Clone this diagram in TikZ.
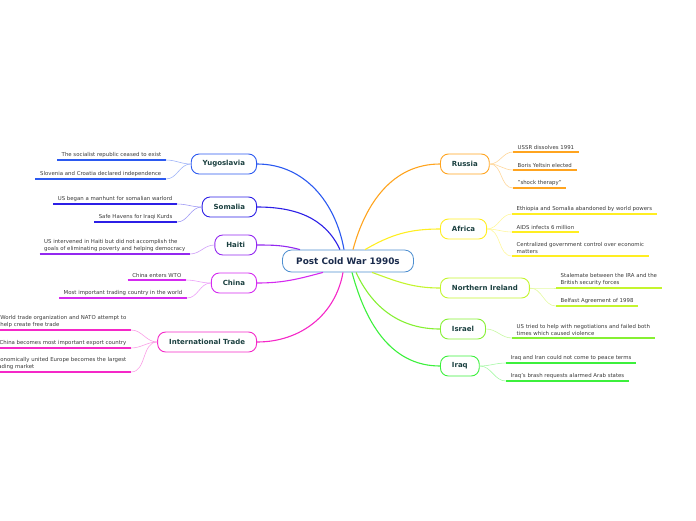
\documentclass[tikz,border=0pt]{standalone}
\usepackage{fontspec}
\setmainfont{DejaVu Sans}
\usetikzlibrary{positioning, calc}

\definecolor{rootline}{HTML}{4E8FD0}
\definecolor{roottext}{HTML}{1A2B4C}
\definecolor{topictext}{HTML}{1B4040}
\definecolor{leafgray}{HTML}{3A3A3A}
\definecolor{yugoC}{HTML}{2B59F0}
\definecolor{somC}{HTML}{2C1FE6}
\definecolor{haitiC}{HTML}{9328F0}
\definecolor{chinaC}{HTML}{D42AF0}
\definecolor{tradeC}{HTML}{F528C8}
\definecolor{russiaC}{HTML}{FFA41F}
\definecolor{africaC}{HTML}{FFEE22}
\definecolor{nirelC}{HTML}{C4F52E}
\definecolor{israelC}{HTML}{86F033}
\definecolor{iraqC}{HTML}{3CF03C}

\begin{document}
\begin{tikzpicture}[x=1pt, y=1pt,
    root/.style={draw=rootline, line width=0.8pt, rounded corners=9pt, fill=white,
        minimum width=131pt, minimum height=22pt, text=roottext,
        font=\fontsize{8.9}{10}\selectfont\bfseries},
    topic/.style={draw, line width=0.9pt, rounded corners=8pt, fill=white,
        minimum height=20pt, inner xsep=11.5pt, text=topictext,
        font=\fontsize{7}{8}\selectfont\bfseries},
    leaf/.style={inner xsep=4.5pt, inner ysep=2.2pt, align=left, text=leafgray,
        font=\fontsize{5.4}{7}\selectfont},
    branch/.style={line width=1.1pt},
    twig/.style={line width=0.6pt},
    uline/.style={line width=1.4pt}]

    \useasboundingbox (0,0) rectangle (696,-520);

    % Central topic
    \node[root] (root) at (348,-261) {Post Cold War 1990s};

    % Main topics (left)
    \node[topic, draw=yugoC, anchor=east] (yugo) at (257,-164) {Yugoslavia};
    \node[topic, draw=somC, anchor=east] (som) at (257,-207) {Somalia};
    \node[topic, draw=haitiC, anchor=east] (haiti) at (257,-245) {Haiti};
    \node[topic, draw=chinaC, anchor=east] (china) at (257,-283) {China};
    \node[topic, draw=tradeC, anchor=east] (trade) at (257,-342) {International Trade};

    % Main topics (right)
    \node[topic, draw=russiaC, anchor=west] (russia) at (440,-164) {Russia};
    \node[topic, draw=africaC, anchor=west] (africa) at (440,-229) {Africa};
    \node[topic, draw=nirelC, anchor=west] (nirel) at (440,-288) {Northern Ireland};
    \node[topic, draw=israelC, anchor=west] (israel) at (440,-329) {Israel};
    \node[topic, draw=iraqC, anchor=west] (iraq) at (440,-366) {Iraq};

    % Branches from the central topic
    \draw[branch, yugoC] ([xshift=-4pt]root.north) to[out=100, in=0] (yugo.east);
    \draw[branch, somC] ([xshift=-8pt]root.north) to[out=115, in=0] (som.east);
    \draw[branch, haitiC] ([xshift=-48pt]root.north) to[out=165, in=0] (haiti.east);
    \draw[branch, chinaC] ([xshift=-25pt]root.south) to[out=-165, in=0] (china.east);
    \draw[branch, tradeC] ([xshift=-5pt]root.south) to[out=-100, in=0] (trade.east);
    \draw[branch, russiaC] ([xshift=5pt]root.north) to[out=75, in=180] (russia.west);
    \draw[branch, africaC] ([xshift=17pt]root.north) to[out=30, in=180] (africa.west);
    \draw[branch, nirelC] ([xshift=24pt]root.south) to[out=-20, in=180] (nirel.west);
    \draw[branch, israelC] ([xshift=8pt]root.south) to[out=-65, in=180] (israel.west);
    \draw[branch, iraqC] ([xshift=4pt]root.south) to[out=-75, in=180] (iraq.west);

    % Subtopics (left)
    \node[leaf, anchor=south east] (y1) at (166,-160) {The socialist republic ceased to exist};
    \node[leaf, anchor=south east] (y2) at (166,-179) {Slovenia and Croatia declared independence};
    \node[leaf, anchor=south east] (s1) at (177,-204) {US began a manhunt for somalian warlord};
    \node[leaf, anchor=south east] (s2) at (177,-222) {Safe Havens for Iraqi Kurds};
    \node[leaf, anchor=south east] (h1) at (190,-254) {US intervened in Haiti but did not accomplish the\\goals of eliminating poverty and helping democracy};
    \node[leaf, anchor=south east] (c1) at (186,-280) {China enters WTO};
    \node[leaf, anchor=south east] (c2) at (187,-298) {Most important trading country in the world};
    \node[leaf, anchor=south east] (t1) at (131,-330) {World trade organization and NATO attempt to\\help create free trade};
    \node[leaf, anchor=south east] (t2) at (131,-348) {China becomes most important export country};
    \node[leaf, anchor=south east] (t3) at (131,-372) {Economically united Europe becomes the largest\\trading market};

    % Subtopics (right)
    \node[leaf, anchor=south west] (r1) at (513,-152) {USSR dissolves 1991};
    \node[leaf, anchor=south west] (r2) at (513,-170) {Boris Yeltsin elected};
    \node[leaf, anchor=south west] (r3) at (513,-188) {"shock therapy"};
    \node[leaf, anchor=south west] (a1) at (512,-214) {Ethiopia and Somalia abandoned by world powers};
    \node[leaf, anchor=south west] (a2) at (512,-232) {AIDS infects 6 million};
    \node[leaf, anchor=south west] (a3) at (512,-256) {Centralized government control over economic\\matters};
    \node[leaf, anchor=south west] (n1) at (556,-288) {Stalemate between the IRA and the\\British security forces};
    \node[leaf, anchor=south west] (n2) at (556,-306) {Belfast Agreement of 1998};
    \node[leaf, anchor=south west] (is1) at (512,-338) {US tried to help with negotiations and failed both\\times which caused violence};
    \node[leaf, anchor=south west] (q1) at (506,-363) {Iraq and Iran could not come to peace terms};
    \node[leaf, anchor=south west] (q2) at (506,-381) {Iraq's brash requests alarmed Arab states};

    % Underlines
    \draw[uline, yugoC] (y1.south west) -- (y1.south east);
    \draw[uline, yugoC] (y2.south west) -- (y2.south east);
    \draw[uline, somC] (s1.south west) -- (s1.south east);
    \draw[uline, somC] (s2.south west) -- (s2.south east);
    \draw[uline, haitiC] (h1.south west) -- (h1.south east);
    \draw[uline, chinaC] (c1.south west) -- (c1.south east);
    \draw[uline, chinaC] (c2.south west) -- (c2.south east);
    \draw[uline, tradeC] (t1.south west) -- (t1.south east);
    \draw[uline, tradeC] (t2.south west) -- (t2.south east);
    \draw[uline, tradeC] (t3.south west) -- (t3.south east);
    \draw[uline, russiaC] (r1.south west) -- (r1.south east);
    \draw[uline, russiaC] (r2.south west) -- (r2.south east);
    \draw[uline, russiaC] (r3.south west) -- (r3.south east);
    \draw[uline, africaC] (a1.south west) -- (a1.south east);
    \draw[uline, africaC] (a2.south west) -- (a2.south east);
    \draw[uline, africaC] (a3.south west) -- (a3.south east);
    \draw[uline, nirelC] (n1.south west) -- (n1.south east);
    \draw[uline, nirelC] (n2.south west) -- (n2.south east);
    \draw[uline, israelC] (is1.south west) -- (is1.south east);
    \draw[uline, iraqC] (q1.south west) -- (q1.south east);
    \draw[uline, iraqC] (q2.south west) -- (q2.south east);

    % Twigs from topics to subtopics
    \draw[twig, yugoC!45] (yugo.west) to[out=180, in=0] (y1.south east);
    \draw[twig, yugoC!45] (yugo.west) to[out=180, in=0] (y2.south east);
    \draw[twig, somC!45] (som.west) to[out=180, in=0] (s1.south east);
    \draw[twig, somC!45] (som.west) to[out=180, in=0] (s2.south east);
    \draw[twig, haitiC!45] (haiti.west) to[out=180, in=0] (h1.south east);
    \draw[twig, chinaC!45] (china.west) to[out=180, in=0] (c1.south east);
    \draw[twig, chinaC!45] (china.west) to[out=180, in=0] (c2.south east);
    \draw[twig, tradeC!45] (trade.west) to[out=180, in=0] (t1.south east);
    \draw[twig, tradeC!45] (trade.west) to[out=180, in=0] (t2.south east);
    \draw[twig, tradeC!45] (trade.west) to[out=180, in=0] (t3.south east);
    \draw[twig, russiaC!45] (russia.east) to[out=0, in=180] (r1.south west);
    \draw[twig, russiaC!45] (russia.east) to[out=0, in=180] (r2.south west);
    \draw[twig, russiaC!45] (russia.east) to[out=0, in=180] (r3.south west);
    \draw[twig, africaC!45] (africa.east) to[out=0, in=180] (a1.south west);
    \draw[twig, africaC!45] (africa.east) to[out=0, in=180] (a2.south west);
    \draw[twig, africaC!45] (africa.east) to[out=0, in=180] (a3.south west);
    \draw[twig, nirelC!45] (nirel.east) to[out=0, in=180] (n1.south west);
    \draw[twig, nirelC!45] (nirel.east) to[out=0, in=180] (n2.south west);
    \draw[twig, israelC!45] (israel.east) to[out=0, in=180] (is1.south west);
    \draw[twig, iraqC!45] (iraq.east) to[out=0, in=180] (q1.south west);
    \draw[twig, iraqC!45] (iraq.east) to[out=0, in=180] (q2.south west);

\end{tikzpicture}
\end{document}
